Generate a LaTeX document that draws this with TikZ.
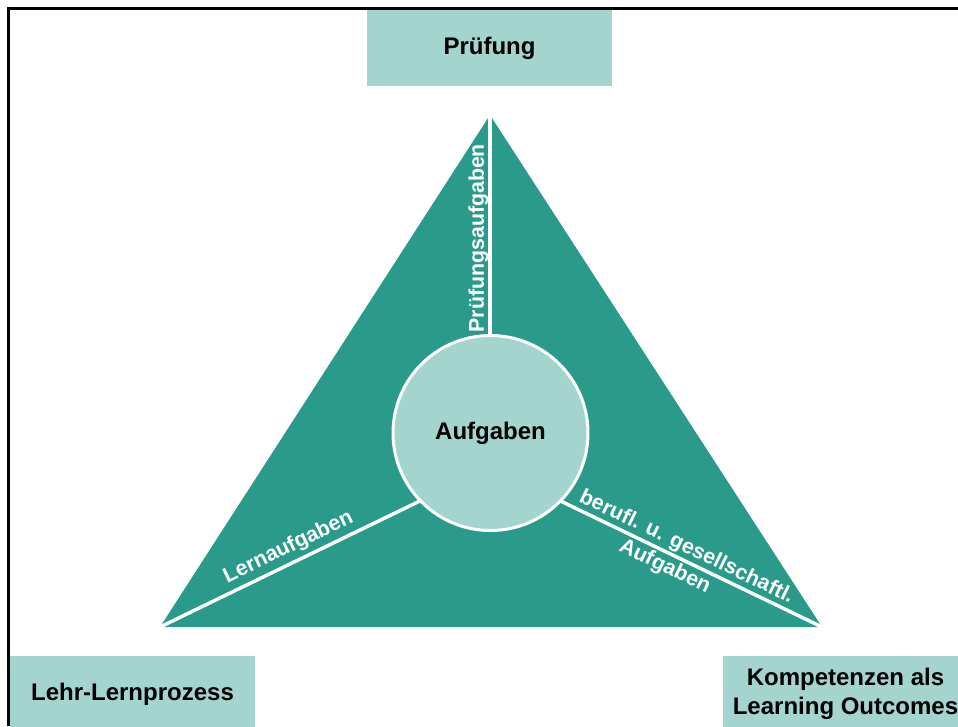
\documentclass[tikz,border=0pt]{standalone}
\usepackage{fontspec}
\setmainfont{Liberation Sans}
\definecolor{tealdark}{RGB}{42,155,139}
\definecolor{teallight}{RGB}{163,213,206}

\begin{document}
\begin{tikzpicture}
  [x=0.75pt,y=-0.75pt,
   every node/.style={font=\bfseries\fontsize{18}{21.75}\selectfont},
   box/.style={rectangle,fill=teallight,minimum width=183.75pt,minimum height=57pt,align=center,inner sep=0pt},
   spoke/.style={draw=white,line width=2.6pt},
   tag/.style={font=\bfseries\fontsize{16}{18}\selectfont,text=white,sloped,inner sep=2pt}]
  \useasboundingbox (0,0) rectangle (958,726);
  % frame
  \draw[line width=2.25pt] (8.5,726) -- (8.5,8.5) -- (958,8.5);
  % triangle
  \coordinate (top) at (490,115);
  \coordinate (bl) at (160,627);
  \coordinate (br) at (822,627);
  \coordinate (mid) at (490,467);
  \fill[tealdark] (top) -- (br) -- (bl) -- cycle;
  \foreach \from/\to in {mid/top,mid/bl,mid/br}
    \draw[spoke] (\from) -- (\to);
  \path (mid) -- (top) node[tag,above,pos=0.65,inner sep=1pt] (lpruef) {Prüfungsaufgaben};
  \path (bl) -- (mid) node[tag,above,pos=0.41,inner sep=4pt] (llern) {Lernaufgaben};
  \path (mid) -- (br) node[tag,above,pos=0.575] (lberuf) {berufl. u. gesellschaftl.};
  \path (mid) -- (br) node[tag,below,pos=0.545,inner sep=3pt] (lauf) {Aufgaben};
  \node[circle,fill=teallight,draw=white,line width=2.25pt,minimum size=146.25pt] (aufg) at (490.5,433) {Aufgaben};
  % corners
  \node[box] (pruef) at (489.5,48) {Prüfung};
  \node[box] (lehr) at (132.5,694) {Lehr-Lernprozess};
  \node[box] (komp) at (845.5,694) {Kompetenzen als\\Learning Outcomes};
\end{tikzpicture}
\end{document}
